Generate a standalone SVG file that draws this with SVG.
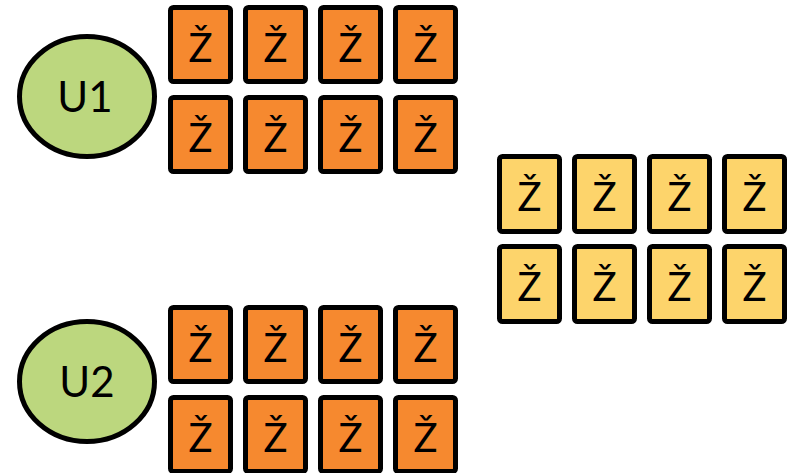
<svg xmlns="http://www.w3.org/2000/svg" width="788" height="473" viewBox="0 0 788 473">
<style>
.o{fill:#F6892F;stroke:#000;stroke-width:5}
.y{fill:#FDD46B;stroke:#000;stroke-width:5}
.u{fill:#BCD77E;stroke:#000;stroke-width:5}
.t{font-family:Lato,"Open Sans",sans-serif;font-size:40px;text-anchor:middle;fill:#000}
.ut{font-family:Lato,"Open Sans",sans-serif;font-size:42px;text-anchor:middle;fill:#000}
</style>
<defs>
<g id="ob"><rect class="o" x="2.5" y="2.5" width="60" height="74" rx="3"/><text class="t" x="32.5" y="57">Ž</text></g>
<g id="yb"><rect class="y" x="2.5" y="2.5" width="60" height="75" rx="3"/><text class="t" x="32.5" y="57">Ž</text></g>
</defs>
<g id="u1"><ellipse class="u" cx="87" cy="96.5" rx="67.5" ry="60"/><text class="ut" x="85" y="112">U1</text></g>
<g id="u2"><ellipse class="u" cx="87" cy="381.5" rx="67.5" ry="60"/><text class="ut" x="87" y="397">U2</text></g>
<g id="group1">
<use href="#ob" x="168" y="5"/><use href="#ob" x="243" y="5"/><use href="#ob" x="318" y="5"/><use href="#ob" x="393" y="5"/>
<use href="#ob" x="168" y="95"/><use href="#ob" x="243" y="95"/><use href="#ob" x="318" y="95"/><use href="#ob" x="393" y="95"/>
</g>
<g id="group2">
<use href="#ob" x="168" y="305"/><use href="#ob" x="243" y="305"/><use href="#ob" x="318" y="305"/><use href="#ob" x="393" y="305"/>
<use href="#ob" x="168" y="395"/><use href="#ob" x="243" y="395"/><use href="#ob" x="318" y="395"/><use href="#ob" x="393" y="395"/>
</g>
<g id="group3">
<use href="#yb" x="497" y="154"/><use href="#yb" x="572" y="154"/><use href="#yb" x="647" y="154"/><use href="#yb" x="722" y="154"/>
<use href="#yb" x="497" y="244"/><use href="#yb" x="572" y="244"/><use href="#yb" x="647" y="244"/><use href="#yb" x="722" y="244"/>
</g>
<g id="connectors"/>
</svg>
